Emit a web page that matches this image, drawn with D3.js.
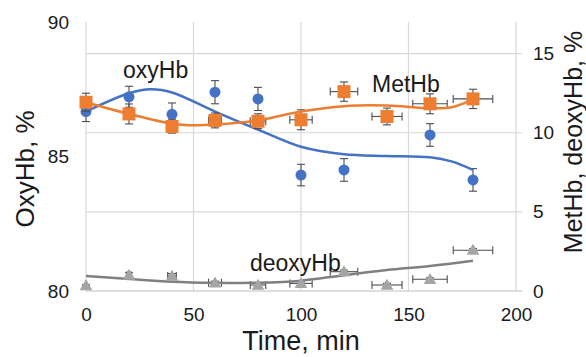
<!DOCTYPE html>
<html>
<head>
<meta charset="utf-8">
<script src="https://cdn.jsdelivr.net/npm/d3@7"></script>
<style>
    body { margin: 0; background: #fff; }
    svg text { font-family: "Liberation Sans", Arial, sans-serif; fill: #1a1a1a; }
</style>
</head>
<body>
<svg id="chart"></svg>
<script>
// Sampling times (min)
const times = [0, 20, 40, 60, 80, 100, 120, 140, 160, 180];

// OxyHb, % (left axis) - no point at 140
const oxyTimes = [0, 20, 40, 60, 80, 100, 120, 160, 180];
const oxyValues = [86.67, 87.22, 86.57, 87.39, 87.14, 84.31, 84.50, 85.80, 84.13];
const oxyErr = [0.37, 0.39, 0.42, 0.43, 0.43, 0.40, 0.42, 0.42, 0.42];

// MetHb, % (right axis)
const metValues = [11.93, 11.19, 10.40, 10.78, 10.73, 10.82, 12.60, 11.03, 11.83, 12.14];
const metErr = [0.57, 0.63, 0.42, 0.47, 0.47, 0.63, 0.61, 0.53, 0.63, 0.61];

// deoxyHb, % (right axis)
const deoxyValues = [0.35, 1.00, 0.95, 0.52, 0.38, 0.48, 1.22, 0.38, 0.74, 2.58];
const deoxyErr = [0.05, 0.15, 0.15, 0.10, 0.10, 0.10, 0.10, 0.10, 0.10, 0.10];

// time uncertainty (min), same for MetHb and deoxyHb
const timeErr = [0, 1, 2, 3, 3.6, 5.2, 6.4, 7, 8, 9.2];

// trend lines
const oxyTrendTimes = [0, 20, 30, 40, 60, 80, 100, 120, 140, 160, 170, 180];
const oxyTrend = [86.67, 87.35, 87.50, 87.38, 86.67, 86.00, 85.36, 85.08, 85.02, 84.97, 84.82, 84.50];
const metTrendTimes = [0, 20, 40, 50, 60, 80, 100, 120, 140, 160, 170, 180];
const metTrend = [11.93, 11.19, 10.57, 10.47, 10.52, 10.78, 11.34, 11.68, 11.72, 11.55, 11.61, 12.10];
const deoxyTrend = [0.95, 0.76, 0.59, 0.52, 0.52, 0.65, 1.00, 1.32, 1.58, 1.91];

// tick labels
const xTicks = [0, 50, 100, 150, 200];
const leftTicks = [80, 85, 90];
const rightTicks = [0, 5, 10, 15];

const width = 586, height = 357;
const plotLeft = 86, plotRight = 516, plotTop = 22, plotBottom = 291;

const svg = d3.select('#chart').attr('width', width).attr('height', height);

const x = d3.scaleLinear().domain([0, 200]).range([plotLeft, plotRight]);
const yL = d3.scaleLinear().domain([80, 90]).range([plotBottom, plotTop]);
const yR = d3.scaleLinear().domain([0, 17]).range([plotBottom, plotTop]);

const grid = '#d9d9d9';

// vertical gridlines
svg.append('g').selectAll('line').data(xTicks).enter().append('line')
    .attr('x1', d => x(d)).attr('x2', d => x(d))
    .attr('y1', plotTop).attr('y2', plotBottom)
    .attr('stroke', grid).attr('stroke-width', 1.2);

// horizontal gridlines follow the right axis
svg.append('g').selectAll('line').data(rightTicks).enter().append('line')
    .attr('x1', plotLeft).attr('x2', plotRight + 6)
    .attr('y1', d => yR(d)).attr('y2', d => yR(d))
    .attr('stroke', d => d === 0 ? '#bfbfbf' : grid).attr('stroke-width', 1.2);

// axes built from d3 axis generators, lines hidden (gridlines do the job)
const fontTick = '19px';

const gx = svg.append('g').attr('transform', `translate(0, ${plotBottom})`)
    .call(d3.axisBottom(x).tickValues(xTicks).tickSize(0).tickPadding(17));
const gl = svg.append('g').attr('transform', `translate(${plotLeft}, 0)`)
    .call(d3.axisLeft(yL).tickValues(leftTicks).tickSize(0).tickPadding(17));
const gr = svg.append('g').attr('transform', `translate(${plotRight}, 0)`)
    .call(d3.axisRight(yR).tickValues(rightTicks).tickSize(0).tickPadding(17));

[gx, gl, gr].forEach(g => {
    g.select('.domain').remove();
    g.selectAll('text').style('font-size', fontTick).attr('fill', '#1a1a1a');
});

// axis titles
svg.append('text').attr('x', 301).attr('y', 350)
    .attr('text-anchor', 'middle').style('font-size', '27px').text('Time, min');
svg.append('text').attr('transform', 'translate(34, 169) rotate(-90)')
    .attr('text-anchor', 'middle').style('font-size', '26px').text('OxyHb, %');
svg.append('text').attr('transform', 'translate(582, 142) rotate(-90)')
    .attr('text-anchor', 'middle').style('font-size', '25px').text('MetHb, deoxyHb, %');

const errColor = '#4d4d4d';
const cap = 4;

// vertical error bars
function vBars(tArr, vals, errs, y) {
    const g = svg.append('g').attr('stroke', errColor).attr('stroke-width', 1.1);
    vals.forEach((v, i) => {
        const cx = x(tArr[i]);
        const y1 = y(v - errs[i]), y2 = y(v + errs[i]);
        g.append('line').attr('x1', cx).attr('x2', cx).attr('y1', y1).attr('y2', y2);
        g.append('line').attr('x1', cx - cap).attr('x2', cx + cap).attr('y1', y1).attr('y2', y1);
        g.append('line').attr('x1', cx - cap).attr('x2', cx + cap).attr('y1', y2).attr('y2', y2);
    });
}

// horizontal error bars
function hBars(tArr, vals, errs, y) {
    const g = svg.append('g').attr('stroke', errColor).attr('stroke-width', 1.1);
    vals.forEach((v, i) => {
        if (!errs[i]) return;
        const cy = y(v);
        const x1 = x(tArr[i] - errs[i]), x2 = x(tArr[i] + errs[i]);
        g.append('line').attr('x1', x1).attr('x2', x2).attr('y1', cy).attr('y2', cy);
        g.append('line').attr('x1', x1).attr('x2', x1).attr('y1', cy - cap).attr('y2', cy + cap);
        g.append('line').attr('x1', x2).attr('x2', x2).attr('y1', cy - cap).attr('y2', cy + cap);
    });
}

function trend(tArr, vals, y, color, w) {
    const line = d3.line()
        .x((d, i) => x(tArr[i]))
        .y(d => y(d))
        .curve(d3.curveCatmullRom.alpha(0.5));
    svg.append('path').datum(vals)
        .attr('d', line)
        .attr('fill', 'none')
        .attr('stroke', color)
        .attr('stroke-width', w);
}

// oxyHb
vBars(oxyTimes, oxyValues, oxyErr, yL);
trend(oxyTrendTimes, oxyTrend, yL, '#4472c4', 2.5);
svg.append('g').selectAll('circle').data(oxyValues).enter().append('circle')
    .attr('cx', (d, i) => x(oxyTimes[i]))
    .attr('cy', d => yL(d))
    .attr('r', 5.5)
    .attr('fill', '#4472c4');

// MetHb
vBars(times, metValues, metErr, yR);
hBars(times, metValues, timeErr, yR);
trend(metTrendTimes, metTrend, yR, '#ed7d31', 2.5);
svg.append('g').selectAll('rect').data(metValues).enter().append('rect')
    .attr('x', (d, i) => x(times[i]) - 6.5)
    .attr('y', d => yR(d) - 6.5)
    .attr('width', 13).attr('height', 13)
    .attr('fill', '#ed7d31');

// deoxyHb
vBars(times, deoxyValues, deoxyErr, yR);
hBars(times, deoxyValues, timeErr, yR);
trend(times, deoxyTrend, yR, '#808080', 2.5);
const tri = d3.symbol().type(d3.symbolTriangle).size(70);
svg.append('g').selectAll('path').data(deoxyValues).enter().append('path')
    .attr('d', tri)
    .attr('transform', (d, i) => `translate(${x(times[i])}, ${yR(d) + 1})`)
    .attr('fill', '#a5a5a5');

// series labels
const labels = [
    { text: 'oxyHb', x: 123, y: 78 },
    { text: 'MetHb', x: 372, y: 92 },
    { text: 'deoxyHb', x: 250, y: 271 }
];
svg.append('g').selectAll('text').data(labels).enter().append('text')
    .attr('x', d => d.x).attr('y', d => d.y)
    .style('font-size', '23px')
    .text(d => d.text);
</script>
</body>
</html>
